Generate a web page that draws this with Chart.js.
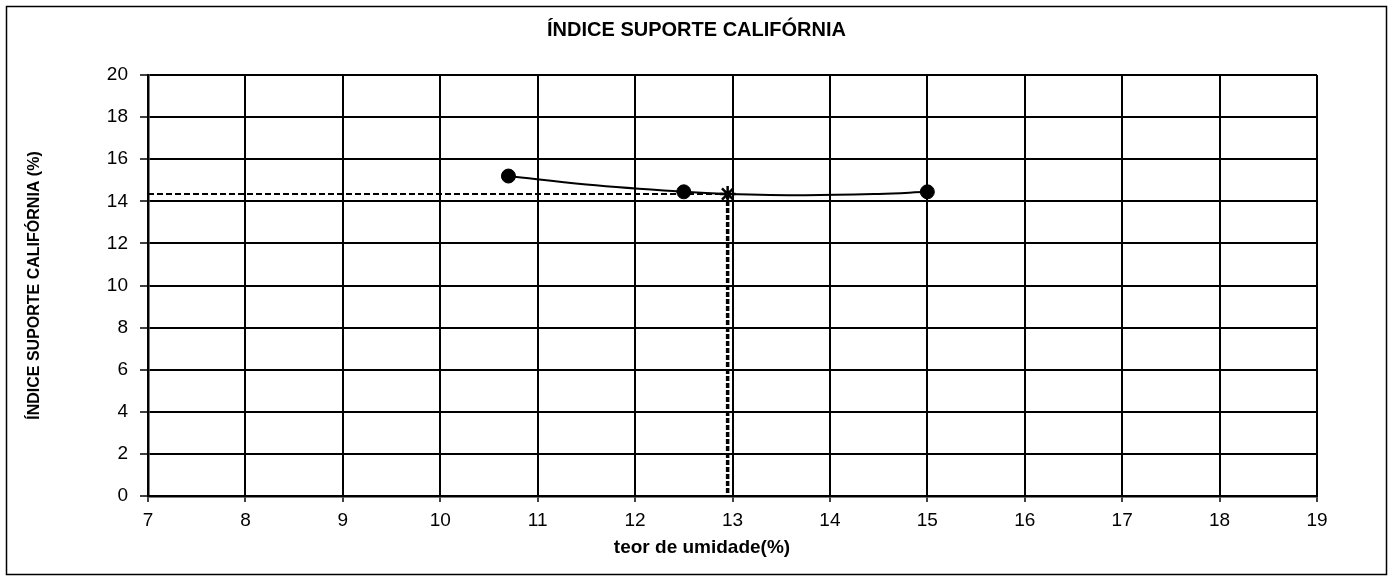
<!DOCTYPE html>
<html>
<head>
<meta charset="utf-8">
<script src="https://cdn.jsdelivr.net/npm/chart.js@4.4.1/dist/chart.umd.min.js"></script>
<style>
  html, body { margin: 0; padding: 0; background: #ffffff; }
  #wrap { width: 1393px; height: 578px; }
</style>
</head>
<body>
<div id="wrap"><canvas id="c" width="1393" height="578"></canvas></div>
<script>
// ---- data ----
const chartTitle = 'ÍNDICE SUPORTE CALIFÓRNIA';
const xAxisTitle = 'teor de umidade(%)';
const yAxisTitle = 'ÍNDICE SUPORTE CALIFÓRNIA (%)';

const moisture = [10.7, 12.5, 15.0];          // teor de umidade (%)
const cbr      = [15.2, 14.45, 14.45];        // ISC (%)

// fitted curve
const curveX = [10.7, 11.5, 12.5, 12.95, 13.75, 14.5, 15.0];
const curveY = [15.2, 14.8, 14.45, 14.35, 14.29, 14.35, 14.45];

// optimum-moisture marker
const optX = [12.95];
const optY = [14.35];

const xMin = 7, xMax = 19, xStep = 1;
const yMin = 0, yMax = 20, yStep = 2;

const FONT = 'Arial, "Liberation Sans", sans-serif';

// ---- build datasets ----
const toPts = (xs, ys) => xs.map((x, i) => ({ x: x, y: ys[i] }));

const framePlugin = {
  id: 'frame',
  beforeDraw(chart) {
    const ctx = chart.ctx;
    ctx.save();
    ctx.fillStyle = '#ffffff';
    ctx.fillRect(0, 0, chart.width, chart.height);
    ctx.strokeStyle = '#000000';
    ctx.lineWidth = 1.5;
    ctx.strokeRect(6.5, 6.5, 1380, 568);
    ctx.restore();
  },
  afterDraw(chart) {
    const ctx = chart.ctx;
    ctx.save();
    ctx.fillStyle = '#000';
    ctx.font = 'bold 19px ' + FONT;
    ctx.textAlign = 'center';
    ctx.textBaseline = 'middle';
    ctx.fillText(xAxisTitle, 702, 548);
    ctx.restore();
  }
};

new Chart(document.getElementById('c'), {
  type: 'scatter',
  data: {
    datasets: [
      {
        label: 'curva',
        data: toPts(curveX, curveY),
        showLine: true,
        borderColor: '#000',
        borderWidth: 2,
        tension: 0.4,
        pointRadius: 0,
        order: 3
      },
      {
        label: 'horizontal',
        data: [{ x: xMin, y: optY[0] }, { x: optX[0], y: optY[0] }],
        showLine: true,
        borderColor: '#000',
        borderWidth: 2,
        borderDash: [6, 3],
        pointRadius: 0,
        order: 4
      },
      {
        label: 'vertical',
        data: [{ x: optX[0], y: optY[0] }, { x: optX[0], y: yMin }],
        showLine: true,
        borderColor: '#000',
        borderWidth: 3.5,
        borderDash: [5, 2],
        pointRadius: 0,
        order: 4
      },
      {
        label: 'ISC',
        data: toPts(moisture, cbr),
        showLine: false,
        backgroundColor: '#000',
        borderColor: '#000',
        pointStyle: 'circle',
        pointRadius: 7,
        order: 1
      },
      {
        label: 'ótimo',
        data: toPts(optX, optY),
        showLine: false,
        borderColor: '#000',
        borderWidth: 2.5,
        pointStyle: 'star',
        pointRadius: 8,
        order: 1
      }
    ]
  },
  options: {
    responsive: false,
    animation: false,
    devicePixelRatio: 1,
    layout: { padding: { left: 10, right: 10, top: 0, bottom: 10 } },
    plugins: {
      legend: { display: false },
      tooltip: { enabled: false },
      title: {
        display: true,
        text: chartTitle,
        color: '#000',
        font: { family: FONT, size: 20, weight: 'bold' },
        padding: { top: 18, bottom: 33 }
      }
    },
    scales: {
      x: {
        type: 'linear',
        min: xMin, max: xMax,
        ticks: {
          stepSize: xStep,
          color: '#000',
          padding: 7,
          font: { family: FONT, size: 19 },
          maxRotation: 0
        },
        grid: { color: '#000', lineWidth: 2, tickLength: 6, tickColor: '#000', tickWidth: 1.5 },
        border: { color: '#000', width: 2.5 },
        title: { display: false },
        afterFit(scale) { scale.height = 72; }
      },
      y: {
        type: 'linear',
        min: yMin, max: yMax,
        ticks: {
          stepSize: yStep,
          color: '#000',
          padding: 12,
          font: { family: FONT, size: 19 }
        },
        grid: { color: '#000', lineWidth: 2, tickLength: 8, tickColor: '#000', tickWidth: 1.5 },
        border: { color: '#000', width: 2.5 },
        title: {
          display: true,
          text: yAxisTitle,
          color: '#000',
          font: { family: FONT, size: 16, weight: 'bold' },
          padding: { top: 15, bottom: 0 }
        },
        afterFit(scale) { scale.width = 138; }
      },
      yRightSpace: {
        type: 'linear',
        position: 'right',
        display: true,
        min: yMin, max: yMax,
        grid: { display: false, drawTicks: false },
        border: { display: false },
        ticks: { display: false },
        afterFit(scale) { scale.width = 66; }
      }
    }
  },
  plugins: [framePlugin]
});
</script>
</body>
</html>
